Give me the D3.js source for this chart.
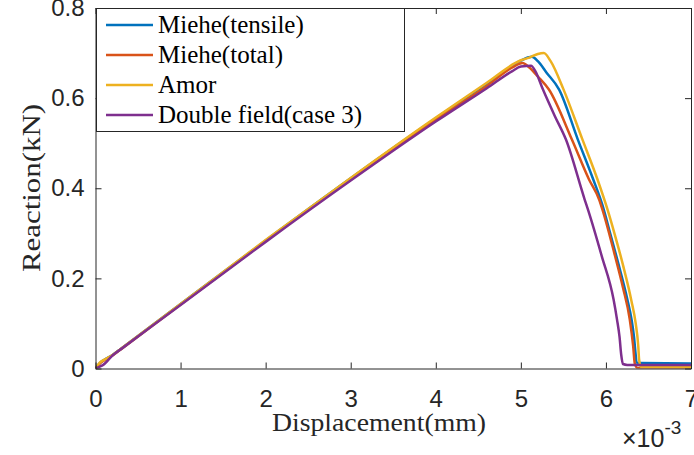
<!DOCTYPE html>
<html>
<head>
<meta charset="utf-8">
<script src="https://cdn.jsdelivr.net/npm/d3@7"></script>
<style>
  body { margin: 0; background: #fff; }
  .tick text { font-family: "Liberation Sans", Arial, sans-serif; }
</style>
</head>
<body>
<div class="chart"></div>
<script>
// Series: displacement (x 1e-3 mm) and reaction (kN)
const names = ["Miehe(tensile)", "Miehe(total)", "Amor", "Double field(case 3)"];
const colors = ["#0072BD", "#D95319", "#EDB120", "#7E2F8E"];

const tensileX = [0, 0.05, 0.1, 0.2, 0.3, 1, 2, 3, 4, 4.6, 5.0, 5.08, 5.13, 5.2, 5.3, 5.45, 5.67, 5.85, 5.96, 6.05, 6.15, 6.25, 6.3, 6.33, 6.35, 6.36, 6.4, 7];
const tensileY = [0, 0.012, 0.019, 0.03, 0.044, 0.143, 0.284, 0.422, 0.555, 0.632, 0.683, 0.69, 0.692, 0.682, 0.657, 0.619, 0.508, 0.42, 0.362, 0.3, 0.23, 0.155, 0.11, 0.07, 0.03, 0.013, 0.012, 0.011];

const totalX = [0, 0.05, 0.1, 0.2, 0.3, 1, 2, 3, 4, 4.6, 4.9, 5.02, 5.1, 5.2, 5.33, 5.6, 5.8, 5.92, 5.96, 6.1, 6.2, 6.28, 6.32, 6.34, 6.37, 7];
const totalY = [0, 0.011, 0.018, 0.029, 0.043, 0.142, 0.283, 0.42, 0.552, 0.627, 0.668, 0.678, 0.668, 0.648, 0.619, 0.508, 0.42, 0.375, 0.352, 0.255, 0.18, 0.109, 0.05, 0.01, 0.001, 0.001];

const amorX = [0, 0.05, 0.1, 0.2, 0.3, 1, 2, 3, 4, 4.6, 5.0, 5.1, 5.2, 5.27, 5.35, 5.5, 5.72, 5.9, 6.02, 6.1, 6.2, 6.3, 6.35, 6.38, 6.39, 6.41, 7];
const amorY = [0, 0.013, 0.019, 0.03, 0.044, 0.143, 0.285, 0.423, 0.557, 0.634, 0.684, 0.69, 0.698, 0.7, 0.682, 0.62, 0.51, 0.42, 0.352, 0.3, 0.23, 0.15, 0.1, 0.05, 0.02, 0.004, 0.003];

const doubleX = [0, 0.05, 0.09, 0.2, 0.3, 1, 2, 3, 4, 4.6, 4.9, 5.0, 5.12, 5.17, 5.26, 5.4, 5.53, 5.75, 5.79, 5.95, 6.09, 6.13, 6.16, 6.18, 6.2, 6.25, 7];
const doubleY = [0, 0.004, 0.008, 0.029, 0.043, 0.141, 0.281, 0.417, 0.548, 0.622, 0.66, 0.67, 0.672, 0.66, 0.619, 0.56, 0.508, 0.375, 0.352, 0.25, 0.153, 0.109, 0.07, 0.03, 0.01, 0.008, 0.008];

const seriesX = [tensileX, totalX, amorX, doubleX];
const seriesY = [tensileY, totalY, amorY, doubleY];

const xTicks = [0, 1, 2, 3, 4, 5, 6, 7];
const yTicks = [0, 0.2, 0.4, 0.6, 0.8];

// Layout
const W = 694, H = 455;
const mLeft = 95.5, mRight = 691, mTop = 8, mBottom = 368.5;
const axisColor = "#262626";
const serif = "'Liberation Serif', 'Times New Roman', serif";

const x = d3.scaleLinear().domain([0, 7]).range([mLeft, mRight]);
const y = d3.scaleLinear().domain([0, 0.8]).range([mBottom, mTop]);

const svg = d3.select(".chart").append("svg")
    .attr("width", W)
    .attr("height", H);

svg.append("defs").append("clipPath").attr("id", "clip")
  .append("rect")
    .attr("x", mLeft).attr("y", mTop)
    .attr("width", mRight - mLeft).attr("height", mBottom - mTop);

// Curves
const line = d3.line()
  .x(d => x(d[0]))
  .y(d => y(d[1]))
  .curve(d3.curveMonotoneX);

const plot = svg.append("g").attr("clip-path", "url(#clip)");
seriesX.forEach((xs, i) => {
  const pts = xs.map((v, j) => [v, seriesY[i][j]]);
  plot.append("path")
    .datum(pts)
    .attr("fill", "none")
    .attr("stroke", colors[i])
    .attr("stroke-width", 2.5)
    .attr("stroke-linejoin", "round")
    .attr("d", line);
});

// Axes (box on, ticks inward)
const xAxis = d3.axisBottom(x).tickValues(xTicks).tickFormat(d3.format("d")).tickSizeInner(-6).tickSizeOuter(0).tickPadding(21);
const yAxis = d3.axisLeft(y).tickValues(yTicks).tickFormat(d => d === 0 ? "0" : d3.format(".1f")(d)).tickSizeInner(-6).tickSizeOuter(0).tickPadding(11);

svg.append("g").attr("transform", `translate(0,${mBottom})`).call(xAxis);
svg.append("g").attr("transform", `translate(${mLeft},0)`).call(yAxis);
svg.append("g").attr("transform", `translate(0,${mTop})`)
  .call(d3.axisTop(x).tickValues(xTicks).tickFormat("").tickSizeInner(-6).tickSizeOuter(0));
svg.append("g").attr("transform", `translate(${mRight},0)`)
  .call(d3.axisRight(y).tickValues(yTicks).tickFormat("").tickSizeInner(-6).tickSizeOuter(0));

svg.selectAll(".domain").attr("stroke", axisColor).attr("stroke-width", 1);
svg.selectAll(".tick line").attr("stroke", axisColor).attr("stroke-width", 1);
svg.selectAll(".tick text")
  .attr("fill", axisColor)
  .style("font-size", "24px");

// Axis labels
svg.append("text")
  .attr("x", 379).attr("y", 431)
  .attr("text-anchor", "middle")
  .attr("fill", axisColor)
  .attr("textLength", 214)
  .attr("lengthAdjust", "spacingAndGlyphs")
  .style("font-family", serif)
  .style("font-size", "25px")
  .text("Displacement(mm)");

svg.append("text")
  .attr("transform", "translate(40,188) rotate(-90)")
  .attr("text-anchor", "middle")
  .attr("fill", axisColor)
  .attr("textLength", 168)
  .attr("lengthAdjust", "spacingAndGlyphs")
  .style("font-family", serif)
  .style("font-size", "26px")
  .text("Reaction(kN)");

// Exponent label
const expo = svg.append("text")
  .attr("x", 622).attr("y", 447)
  .attr("fill", axisColor)
  .style("font-family", "'Liberation Sans', Arial, sans-serif")
  .style("font-size", "25px");
expo.append("tspan").text("\u00d710");
expo.append("tspan").attr("dy", -13).style("font-size", "19px").text("-3");

// Legend
const legend = svg.append("g");
legend.append("rect")
  .attr("x", 96.5).attr("y", 8.5)
  .attr("width", 308).attr("height", 123)
  .attr("fill", "#fff")
  .attr("stroke", axisColor)
  .attr("stroke-width", 1);

names.forEach((n, i) => {
  const ly = 25 + i * 30;
  legend.append("line")
    .attr("x1", 106).attr("x2", 153)
    .attr("y1", ly).attr("y2", ly)
    .attr("stroke", colors[i])
    .attr("stroke-width", 2.5);
  legend.append("text")
    .attr("x", 158).attr("y", ly + 8)
    .attr("fill", "#000")
    .style("font-family", serif)
    .style("font-size", "25px")
    .text(n);
});
</script>
</body>
</html>
